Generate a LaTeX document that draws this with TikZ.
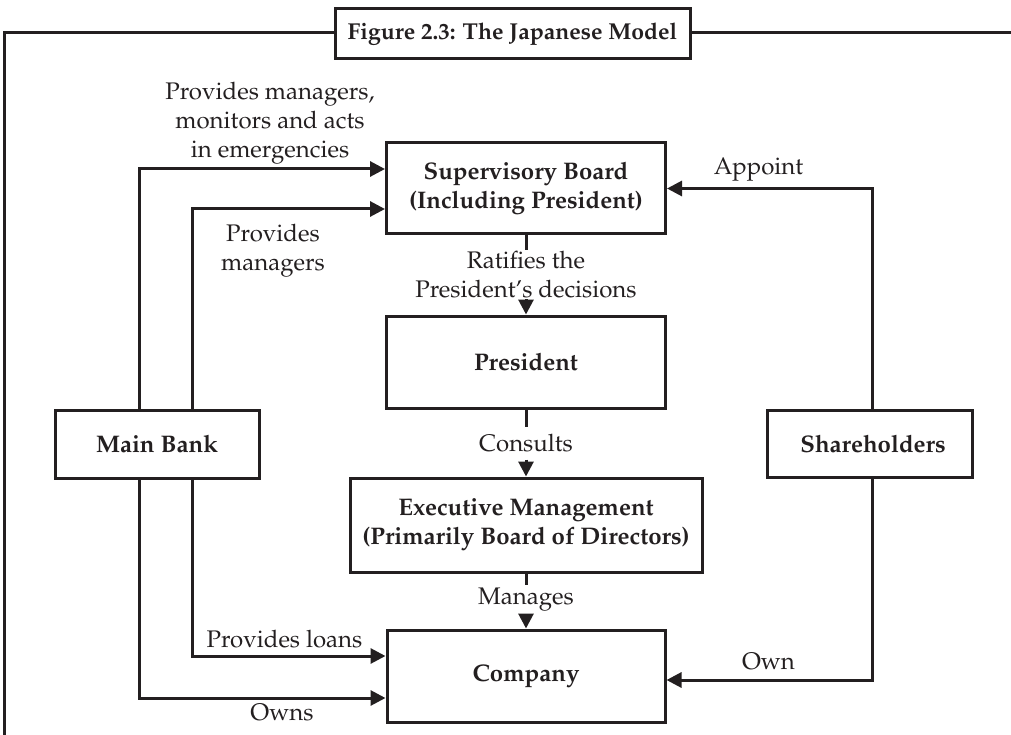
\documentclass[tikz,border=0pt]{standalone}
\usepackage[T1]{fontenc}
\renewcommand{\rmdefault}{ppl}
\usetikzlibrary{arrows.meta}
\definecolor{ink}{HTML}{231F20}
\tikzset{
  every node/.style={font=\fontsize{24}{29}\selectfont, text=ink},
  ln/.style={line width=3pt, draw=ink},
  arr/.style={ln, -{Triangle[length=15pt,width=15pt]}},
  vbox/.style={ln, fill=white, inner sep=0pt, align=center, font=\fontsize{24}{29}\selectfont\bfseries},
  lab/.style={inner sep=0pt, align=center},
  clab/.style={inner xsep=0pt, align=center},
}
\begin{document}
\begin{tikzpicture}[x=1pt,y=-1pt]
\useasboundingbox (0,0) rectangle (1011,735);
% frame
\coordinate (fbl) at (4,735);
\coordinate (ftl) at (4,33);
\coordinate (ftr) at (1011,33);
\draw[ln, line cap=rect] (fbl) -- (ftl) -- (ftr);
\node[vbox, minimum width=355pt, minimum height=50pt, font=\fontsize{23}{28}\selectfont\bfseries] (title) at (512.5,34) {Figure 2.3: The Japanese Model};
% boxes
\node[vbox, minimum width=279pt, minimum height=91pt] (sup) at (526,188.5) {Supervisory Board\\(Including President)};
\node[vbox, minimum width=279pt, minimum height=92pt] (pres) at (526,362) {President};
\node[vbox, minimum width=352pt, minimum height=94pt] (exec) at (526,525) {Executive Management\\(Primarily Board of Directors)};
\node[vbox, minimum width=278pt, minimum height=92pt] (comp) at (526,676) {Company};
\node[vbox, minimum width=204pt, minimum height=68pt] (bank) at (157,444) {Main Bank};
\node[vbox, minimum width=205pt, minimum height=67pt] (share) at (869.5,443.5) {\hspace*{7pt}Shareholders};
% vertical chain labels
\node[clab, inner ysep=1pt] (rat) at (526,274.5) {Ratifies the\\President's decisions};
\node[clab, inner ysep=7pt] (cons) at (526,443.5) {Consults};
\node[clab, inner ysep=3pt] (man) at (526,600) {Manages};
\draw[ln] (sup.south) -- (rat.north);
\draw[arr] (rat.south) -- (pres.north);
\draw[ln] (pres.south) -- (cons.north);
\draw[arr] (cons.south) -- (exec.north);
\draw[ln] (exec.south) -- (man.north);
\draw[arr] (man.south) -- (comp.north);
% side connectors
\draw[arr] ([xshift=-18pt]bank.north) |- ([yshift=19.5pt]sup.west);
\draw[arr] ([xshift=35pt]bank.north) |- ([yshift=-20.5pt]sup.west);
\draw[arr] ([xshift=35pt]bank.south) |- ([yshift=20pt]comp.west);
\draw[arr] ([xshift=-18pt]bank.south) |- ([yshift=-22pt]comp.west);
\draw[arr] ([xshift=2.5pt]share.north) |- (sup.east);
\draw[arr] ([xshift=2.5pt]share.south) |- ([yshift=-4pt]comp.east);
% labels
\node[lab] (l1) at (270,123) {Provides managers,\\monitors and acts\\in emergencies};
\node[lab] (l2) at (273,250.5) {Provides\\managers};
\node[lab, anchor=base] (l3) at (284.5,647) {Provides loans};
\node[lab, anchor=base] (l4) at (282,720) {Owns};
\node[lab, anchor=base] (l5) at (758.5,175) {Appoint};
\node[lab, anchor=base] (l6) at (768.5,669) {Own};
\end{tikzpicture}
\end{document}
